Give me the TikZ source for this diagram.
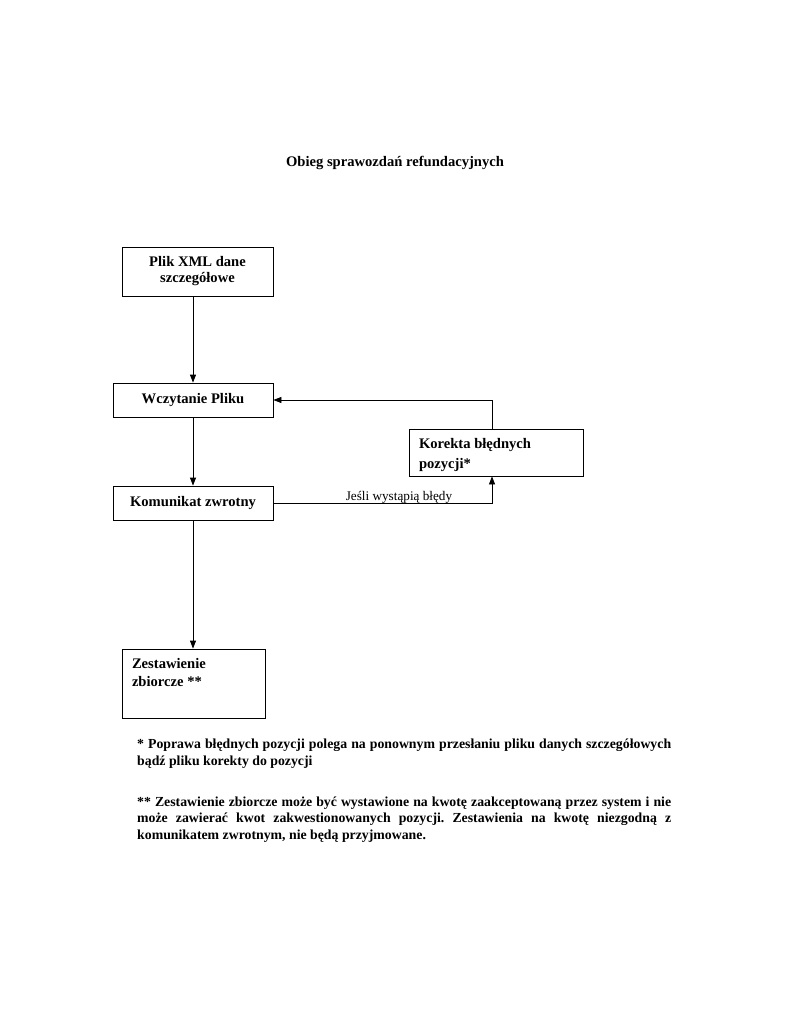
\documentclass[tikz,border=0pt]{standalone}
\usepackage{fontspec}
\setmainfont{Liberation Serif}
\usetikzlibrary{arrows.meta}
\frenchspacing
\begin{document}
\begin{tikzpicture}[x=1pt,y=-1pt,
  box/.style={draw, line width=0.8pt, inner sep=0pt, font=\bfseries\fontsize{14.6}{16}\selectfont},
  arr/.style={line width=0.8pt, -{Triangle[length=8pt,width=6pt]}},
  plain/.style={line width=0.8pt}]
\useasboundingbox (0,0) rectangle (791,1024);
\node[anchor=base, font=\bfseries\fontsize{14.6}{16}\selectfont] (title) at (395,167) {Obieg sprawozdań refundacyjnych};
\node[box, minimum width=151pt, minimum height=49pt, align=center] (plik) at (197.5,271.5) {Plik XML dane\\szczegółowe};
\node[box, minimum width=160pt, minimum height=34pt] (wcz) at (193,400) {Wczytanie Pliku};
\node[box, minimum width=160pt, minimum height=34pt] (kom) at (193,503) {Komunikat zwrotny};
\node[box, minimum width=174pt, minimum height=47pt, inner xsep=10pt, font=\bfseries\fontsize{14.6}{20}\selectfont] (kor) at (496,452.5) {\parbox[c][47pt][c]{154pt}{\vspace*{6pt}Korekta błędnych\\pozycji*}};
\node[box, minimum width=143pt, minimum height=69pt, inner xsep=10pt, inner ysep=9pt, font=\bfseries\fontsize{14.6}{18}\selectfont] (zest) at (193.5,683.5) {\parbox[c][51pt][t]{123pt}{Zestawienie\\zbiorcze **}};
\coordinate (kx) at (492,0);
\draw[arr] (plik.south -| wcz.north) -- (wcz.north);
\draw[arr] (wcz.south) -- (kom.north);
\draw[arr] (kom.south) -- (kom.south |- zest.north);
\draw[arr] (kor.north -| kx) |- (wcz.east);
\draw[arr] (kom.east) -| (kor.south -| kx);
\node[anchor=base, font=\fontsize{13.2}{15}\selectfont, inner sep=0pt] (lab) at (399,500) {Jeśli wystąpią błędy};
\node[anchor=north west, inner sep=0pt, text width=534pt, align=justify, font=\bfseries\fontsize{13.8}{16.4}\selectfont] (notes) at (137,739) {* Poprawa błędnych pozycji polega na ponownym przesłaniu pliku danych szczegółowych bądź pliku korekty do pozycji\par\vspace{25pt}** Zestawienie zbiorcze może być wystawione na kwotę zaakceptowaną przez system i nie\linebreak może zawierać kwot zakwestionowanych pozycji. Zestawienia na kwotę niezgodną z\linebreak komunikatem zwrotnym, nie będą przyjmowane.};
\end{tikzpicture}
\end{document}
